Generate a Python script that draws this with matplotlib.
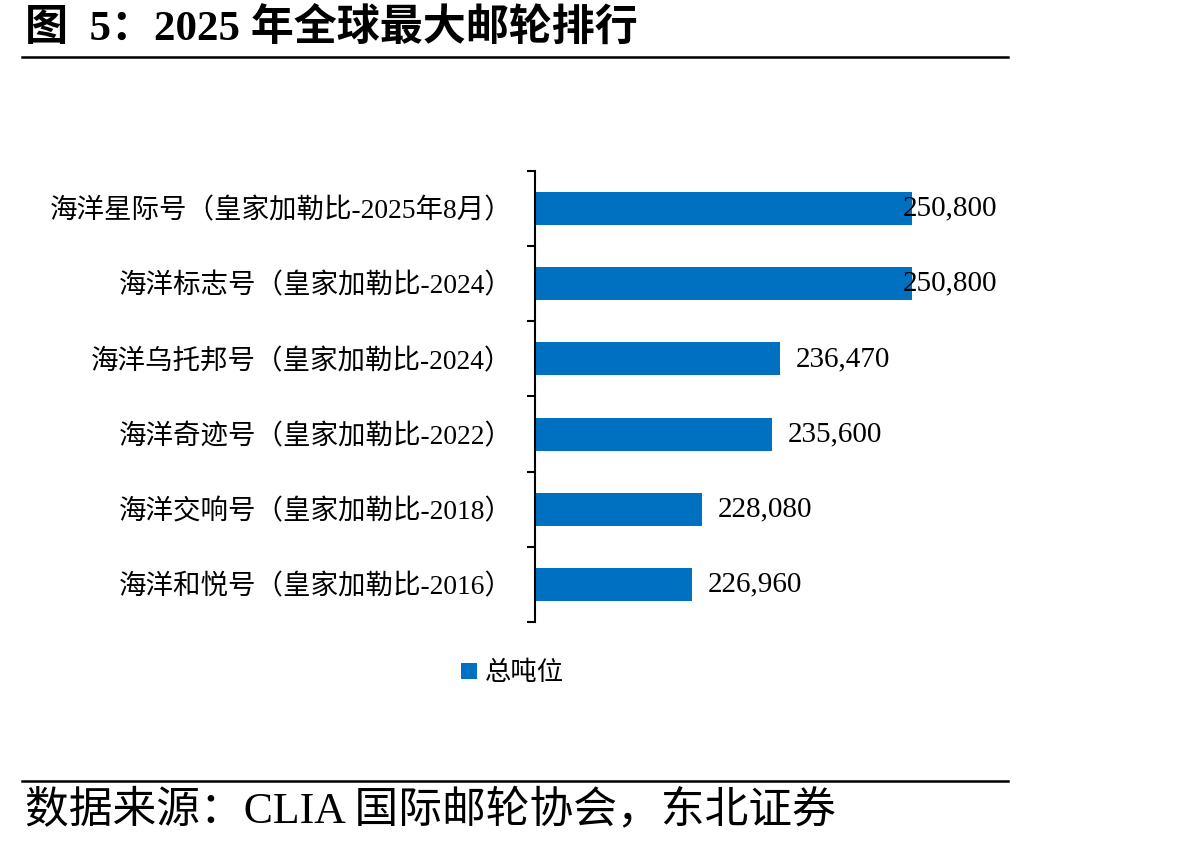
import matplotlib
matplotlib.use("Agg")
import matplotlib.pyplot as plt
from matplotlib.lines import Line2D

plt.rcParams['font.family'] = ['Liberation Serif', 'Noto Sans CJK SC', 'DejaVu Sans']

# data (top to bottom as shown)
ships = ['海洋星际号（皇家加勒比-2025年8月）',
         '海洋标志号（皇家加勒比-2024）',
         '海洋乌托邦号（皇家加勒比-2024）',
         '海洋奇迹号（皇家加勒比-2022）',
         '海洋交响号（皇家加勒比-2018）',
         '海洋和悦号（皇家加勒比-2016）']
tonnage = [250800, 250800, 236470, 235600, 228080, 226960]
series_name = '总吨位'

xmin, xmax = 210000, 260000
bar_color = '#0070C0'

fig = plt.figure(figsize=(11.98, 8.46), dpi=100)
ax = fig.add_axes([0.4463, 0.2648, 0.3862, 0.5331])

pos = list(range(len(ships)))
bars = ax.barh(pos, tonnage, left=0, height=0.44, color=bar_color, label=series_name)
ax.set_xlim(xmin, xmax)
ax.set_ylim(len(ships) - 0.5, -0.5)

ax.set_yticks(pos)
ax.set_yticklabels(ships, fontsize=19.8)
ax.set_yticks([p - 0.5 for p in pos] + [len(ships) - 0.5], minor=True)
ax.tick_params(axis='y', which='major', length=0, pad=16)
ax.tick_params(axis='y', which='minor', length=6, width=1.5, direction='out')
ax.set_xticks([])

for s in ['top', 'right', 'bottom']:
    ax.spines[s].set_visible(False)
ax.spines['left'].set_linewidth(1.5)

# value labels, pulled inside the plot when they would overflow
fig.canvas.draw()
renderer = fig.canvas.get_renderer()
ax_right = ax.get_window_extent(renderer).x1
for p, v in zip(pos, tonnage):
    t = ax.text(v + 1700, p, f'{v:,}', fontsize=21, va='center', ha='left')
    bb = t.get_window_extent(renderer)
    if bb.x1 > ax_right:
        t.set_x(xmax)
        t.set_ha('right')

fig.legend(handles=[bars], labels=[series_name], loc='center',
           bbox_to_anchor=(0.428, 0.2045), frameon=False, fontsize=19,
           handlelength=0.6, handleheight=0.6, handletextpad=0.3)

# header / footer
fig.text(0.021, 1 - 29 / 846, '图  5：2025 年全球最大邮轮排行', fontsize=31,
         fontweight='bold', va='center', ha='left')
fig.add_artist(Line2D([22 / 1198, 1008 / 1198], [1 - 57 / 846] * 2,
                      color='black', linewidth=1.8))
fig.add_artist(Line2D([22 / 1198, 1008 / 1198], [1 - 781 / 846] * 2,
                      color='black', linewidth=1.8))
fig.text(0.021, 1 - 810 / 846, '数据来源：CLIA 国际邮轮协会，东北证券', fontsize=31.5,
         va='center', ha='left')

fig.savefig('out.png', dpi=100)
